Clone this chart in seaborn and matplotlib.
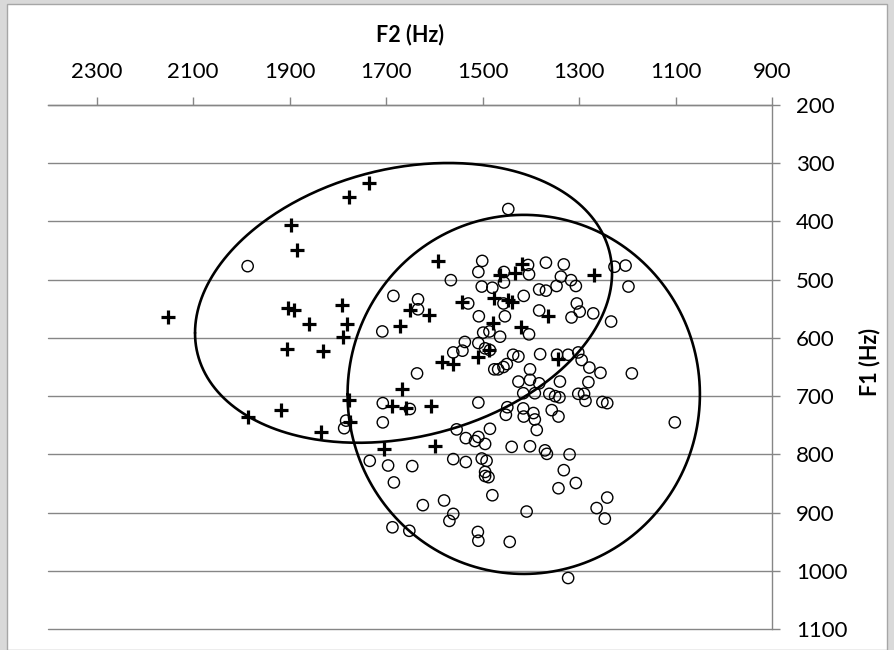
import numpy as np
import matplotlib
matplotlib.use('Agg')
import matplotlib.pyplot as plt
import seaborn as sns
from matplotlib.patches import Rectangle

# ── data (Hz) ─────────────────────────────────────────────────────────
plus_f2 = [1898, 1885, 2151, 1903, 1891, 1859, 1906, 1831, 1777, 1736,
           1592, 1464, 1476, 1651, 1611, 1542, 1478, 1792, 1782, 1790,
           1671, 1509, 1486, 1585, 1562, 1418, 1433, 1269, 1447, 1439,
           1364, 1421, 1343, 1608, 1599, 1986, 1917, 1834, 1776, 1775,
           1668, 1687, 1658, 1704]
plus_f1 = [406, 450, 564, 548, 553, 576, 619, 622, 358, 334,
           469, 492, 531, 552, 560, 538, 575, 544, 576, 598,
           579, 632, 620, 642, 645, 473, 489, 492, 535, 539,
           562, 581, 637, 717, 785, 735, 724, 761, 707, 744,
           688, 717, 721, 791]

circle_f2 = [1987, 1501, 1509, 1566, 1502, 1480, 1685, 1634, 1634, 1530,
             1508, 1708, 1499, 1486, 1537, 1509, 1495, 1485, 1561, 1542,
             1636, 1476, 1468,
             1447, 1406, 1404, 1456, 1456, 1369, 1332, 1338, 1317, 1307,
             1347, 1383, 1369, 1227, 1204, 1198, 1415, 1457, 1454, 1383,
             1305, 1299, 1316, 1271, 1234, 1404, 1464, 1437, 1426, 1381,
             1346, 1323, 1302, 1295, 1279, 1256, 1191, 1457, 1450, 1402,
             1426, 1402, 1383, 1340, 1416, 1392, 1362, 1350, 1341, 1357,
             1343, 1449, 1452, 1416, 1415, 1395, 1392, 1388, 1509, 1554,
             1535, 1485, 1516, 1509, 1495, 1440, 1402, 1371, 1367, 1320,
             1561, 1535, 1502, 1492, 1495, 1495, 1488, 1332, 1343, 1480,
             1624, 1580, 1561, 1569, 1409, 1510, 1509, 1444, 1323,
             1281, 1302, 1290, 1287, 1252, 1242, 1102, 1307, 1242, 1264,
             1247,
             1783, 1787, 1651, 1707, 1707, 1734, 1696, 1646, 1684, 1687,
             1652]
circle_f1 = [477, 468, 487, 501, 512, 514, 528, 534, 551, 541,
             563, 589, 591, 589, 607, 609, 618, 621, 625, 622,
             661, 654, 654,
             379, 475, 491, 487, 505, 471, 474, 495, 501, 511,
             511, 517, 519, 478, 476, 512, 528, 541, 563, 553,
             541, 555, 565, 558, 572, 594, 598, 629, 632, 628,
             629, 629, 625, 638, 651, 660, 661, 650, 645, 654,
             675, 672, 678, 675, 695, 695, 696, 700, 702, 724,
             735, 719, 732, 721, 735, 729, 740, 758, 711, 757,
             772, 756, 777, 770, 782, 787, 786, 793, 799, 800,
             808, 813, 807, 811, 830, 837, 839, 827, 858, 870,
             887, 879, 902, 914, 898, 933, 948, 950, 1012,
             676, 696, 696, 708, 710, 712, 745, 849, 874, 892,
             910,
             742, 755, 722, 712, 745, 811, 819, 820, 848, 925,
             931]

# ellipses: centre F2, centre F1, half-extent F2, half-extent F1, correlation
ellipse_plus = (1664, 540, 432, 240, 0.215)
ellipse_circle = (1415, 697, 365, 308, 0.0)

x_ticks = list(range(2300, 800, -200))
y_ticks = list(range(200, 1200, 100))


def ellipse_curve(cx, cy, a, b, r, n=400):
    t = np.linspace(0, 2 * np.pi, n)
    xs = cx + a * np.cos(t)
    ys = cy + b * (r * np.cos(t) + np.sqrt(1 - r ** 2) * np.sin(t))
    return xs, ys


# ── figure ────────────────────────────────────────────────────────────
sns.set_theme(style='white')
plt.rcParams['font.family'] = ['Lato', 'DejaVu Sans']
plt.rcParams['text.color'] = 'black'

fig = plt.figure(figsize=(8.94, 6.5), dpi=100, facecolor='#d9d9d9')
fig.patches.append(Rectangle((7 / 894, 0), 880 / 894, 646 / 650,
                             transform=fig.transFigure, facecolor='white',
                             edgecolor='#a6a6a6', lw=1, zorder=-10))
ax = fig.add_axes([48.3 / 894, 1 - 629.3 / 650, 724 / 894, 524.6 / 650])
ax.set_facecolor('none')

sns.scatterplot(x=circle_f2, y=circle_f1, marker='o', s=66, ax=ax,
                color='black', linewidth=1.0, zorder=2)
circles = ax.collections[-1]
circles.set_facecolor('none')
circles.set_edgecolor('black')

sns.scatterplot(x=plus_f2, y=plus_f1, marker='+', s=110, ax=ax,
                color='black', linewidth=2.3, zorder=3)

for params in (ellipse_plus, ellipse_circle):
    ex, ey = ellipse_curve(*params)
    ax.plot(ex, ey, color='black', lw=1.9, zorder=4)

ax.set_xlim(2400, 900)
ax.set_ylim(1100, 200)
ax.set_xticks(x_ticks)
ax.set_yticks(y_ticks)

ax.xaxis.tick_top()
ax.yaxis.tick_right()
ax.tick_params(axis='x', top=True, bottom=False, labeltop=True,
               labelbottom=False, direction='out', length=6, width=1,
               color='#868686', pad=10, labelsize=16, labelcolor='black')
ax.tick_params(axis='y', right=True, left=False, labelright=True,
               labelleft=False, direction='out', length=6, width=1,
               color='#868686', pad=11, labelsize=16, labelcolor='black')

ax.yaxis.grid(True, color='#868686', lw=1)
ax.xaxis.grid(False)
for gl in ax.yaxis.get_gridlines():
    gl.set_clip_on(False)
for side in ('left', 'bottom'):
    ax.spines[side].set_visible(False)
for side in ('top', 'right'):
    ax.spines[side].set_visible(True)
    ax.spines[side].set_color('#868686')
    ax.spines[side].set_linewidth(1)

fig.text(410 / 894, 1 - 35 / 650, 'F2 (Hz)', ha='center', va='center',
         fontsize=15.5, fontweight='bold', color='black')
fig.text(870 / 894, 1 - 362 / 650, 'F1 (Hz)', ha='center', va='center',
         rotation=90, fontsize=15.5, fontweight='bold', color='black')

fig.savefig('out.png', dpi=100, facecolor=fig.get_facecolor())
